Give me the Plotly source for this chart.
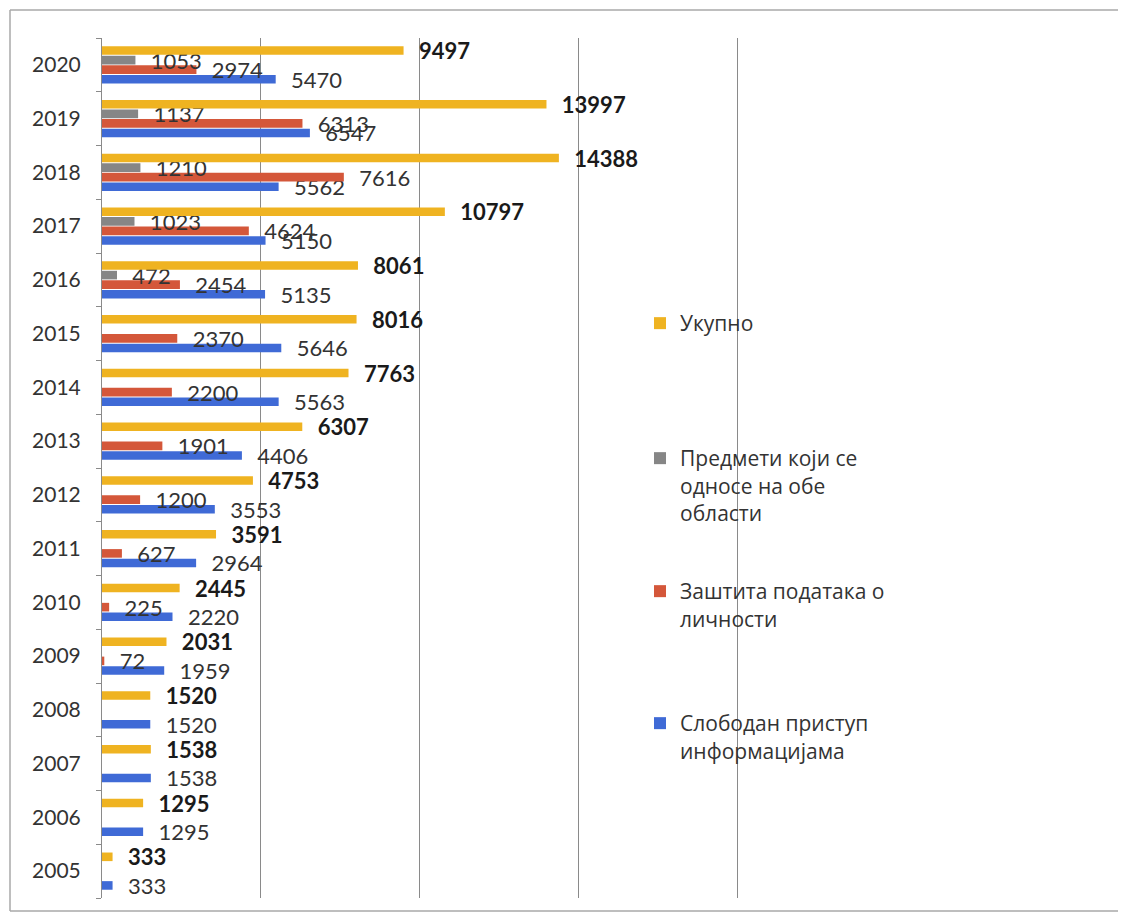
import plotly.graph_objects as go

years = ["2005", "2006", "2007", "2008", "2009", "2010", "2011", "2012",
         "2013", "2014", "2015", "2016", "2017", "2018", "2019", "2020"]
total = [333, 1295, 1538, 1520, 2031, 2445, 3591, 4753,
         6307, 7763, 8016, 8061, 10797, 14388, 13997, 9497]
both_areas = [None, None, None, None, None, None, None, None,
              None, None, None, 472, 1023, 1210, 1137, 1053]
data_protection = [None, None, None, None, 72, 225, 627, 1200,
                   1901, 2200, 2370, 2454, 4624, 7616, 6313, 2974]
free_access = [333, 1295, 1538, 1520, 1959, 2220, 2964, 3553,
               4406, 5563, 5646, 5135, 5150, 5562, 6547, 5470]

names = ["Укупно",
         "Предмети који се<br>односе на обе<br>области",
         "Заштита података о<br>личности",
         "Слободан приступ<br>информацијама"]
colors = ["#EFB321", "#868686", "#D4573A", "#3F6AD6"]

# page body has an 8px margin; work in screen pixels and convert
OFF = 8
W, H = 1110, 905
ML = 102 - OFF
MT = 38 - OFF
PLOT_RIGHT = 739 - OFF
PLOT_BOTTOM = 898 - OFF
MR = W - PLOT_RIGHT
MB = H - PLOT_BOTTOM
PW = W - ML - MR
PH = H - MT - MB


def sx(px):
    return (px - OFF - ML) / PW


def sy(py):
    return (H - MB - (py - OFF)) / PH


def labels(vals):
    return ["\u2002\u200a" + str(v) if v is not None else "" for v in vals]


series = [
    (free_access, names[3], colors[3], False, "legend4"),
    (data_protection, names[2], colors[2], False, "legend3"),
    (both_areas, names[1], colors[1], False, "legend2"),
    (total, names[0], colors[0], True, "legend"),
]

fig = go.Figure()
for vals, name, color, bold, leg in series:
    fig.add_trace(go.Bar(
        y=years, x=vals, orientation="h", name=name,
        marker=dict(color=color, line=dict(width=0)),
        text=labels(vals), textposition="outside",
        textfont=dict(family="Lato, Carlito, sans-serif", size=22,
                      color="#1a1a1a" if bold else "#333333",
                      weight="bold" if bold else "normal"),
        constraintext="none", cliponaxis=False,
        legend=leg, hoverinfo="skip",
    ))

legend_common = dict(
    font=dict(family="Open Sans, Noto Sans, sans-serif", size=21, color="#333333"),
    bgcolor="rgba(0,0,0,0)", borderwidth=0, valign="top",
    xanchor="left", yanchor="top", itemwidth=30,
)
lx = sx(640)

frame = dict(type="line", xref="paper", yref="paper",
             line=dict(color="#a8a8a8", width=1.5), layer="below")

fig.update_layout(
    width=W, height=H,
    margin=dict(l=ML, r=MR, t=MT, b=MB, autoexpand=False),
    paper_bgcolor="white", plot_bgcolor="white",
    barmode="group", bargap=0.29, bargroupgap=0.1,
    showlegend=True,
    legend=dict(x=lx, y=sy(303), **legend_common),
    legend2=dict(x=lx, y=sy(438), **legend_common),
    legend3=dict(x=lx, y=sy(571), **legend_common),
    legend4=dict(x=lx, y=sy(703), **legend_common),
    xaxis=dict(range=[0, 20060], tickvals=[5000, 10000, 15000, 20000],
               showticklabels=False,
               showgrid=True, gridcolor="#8a8a8a", gridwidth=1,
               zeroline=False, showline=False, ticks=""),
    yaxis=dict(type="category", categoryorder="array", categoryarray=years,
               showline=True, linecolor="#8a8a8a", linewidth=1,
               ticks="outside", ticklen=5, tickcolor="#8a8a8a",
               tickson="boundaries", showgrid=False,
               ticklabelstandoff=16,
               tickfont=dict(family="Lato, Carlito, sans-serif", size=21,
                             color="#333333")),
    shapes=[
        dict(frame, x0=sx(10), x1=sx(10), y0=sy(911), y1=sy(10)),
        dict(frame, x0=sx(10), x1=sx(1140), y0=sy(10), y1=sy(10)),
        dict(frame, x0=sx(10), x1=sx(1140), y0=sy(911), y1=sy(911)),
    ],
)

fig.write_html("out.html")
